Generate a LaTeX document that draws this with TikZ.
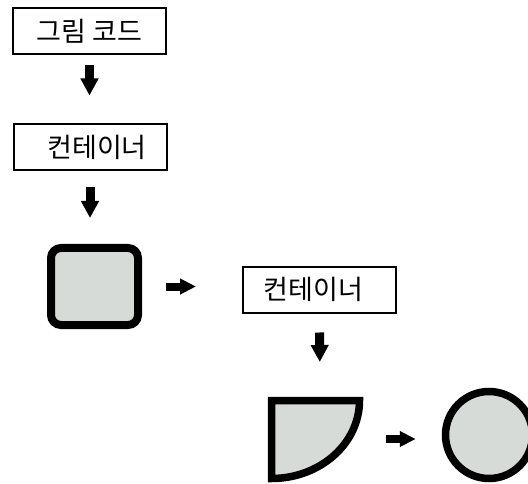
\documentclass[tikz,border=0pt]{standalone}
\usepackage{fontspec}
\newfontfamily\kr{Noto Sans CJK KR}
\usetikzlibrary{arrows.meta}
\definecolor{shapefill}{RGB}{214,219,216}
\begin{document}
\begin{tikzpicture}[x=1pt,y=-1pt,
  textbox/.style={draw=black, line width=2pt, minimum width=153pt, minimum height=46pt, inner sep=0pt, font=\kr\fontsize{27}{30}\selectfont},
  blockdown/.style={line width=9pt, -{Triangle[length=17pt,width=17pt]}},
  blockright/.style={line width=8pt, -{Triangle[length=16pt,width=15pt]}},
  thickshape/.style={draw=black, fill=shapefill, line width=7.5pt}]
\useasboundingbox (0,0) rectangle (528,484);
\clip (0,0) rectangle (528,484);
\node[textbox] (b1) at (89.5,31) {그림 코드};
\node[textbox] (b2) at (90,147.5) {\hspace*{14pt}컨테이너};
\node[textbox] (b3) at (319.5,289.5) {컨테이너\hspace*{12pt}};
\node[thickshape, rounded corners=10pt, minimum width=87pt, minimum height=77pt, inner sep=0pt, line width=8pt] (sq) at (94.5,286.5) {};
% quarter shape
\draw[thickshape, line join=miter] (271.5,478.5) -- (271.5,400.5) -- (359.5,400.5) arc[start angle=0, end angle=90, x radius=88, y radius=78] -- cycle;
\coordinate (qtop) at (320,397);
\coordinate (qright) at (366,439);
\node[thickshape, circle, minimum size=87pt, inner sep=0pt] (c) at (489,435) {};
% arrows
\draw[blockdown, shorten <=10pt, shorten >=28pt] (b1.south) -- (b1.south |- b2.north);
\draw[blockdown, shorten <=16pt, shorten >=26pt] (b2.south) -- (b2.south |- sq.north);
\draw[blockright, shorten <=24pt, shorten >=46pt] (sq.east) -- (sq.east -| b3.west);
\draw[blockdown, shorten <=19pt, shorten >=35pt] (b3.south) -- (qtop);
\draw[blockright, shorten <=20pt, shorten >=26pt] (qright) -- (qright -| c.west);
\end{tikzpicture}
\end{document}
